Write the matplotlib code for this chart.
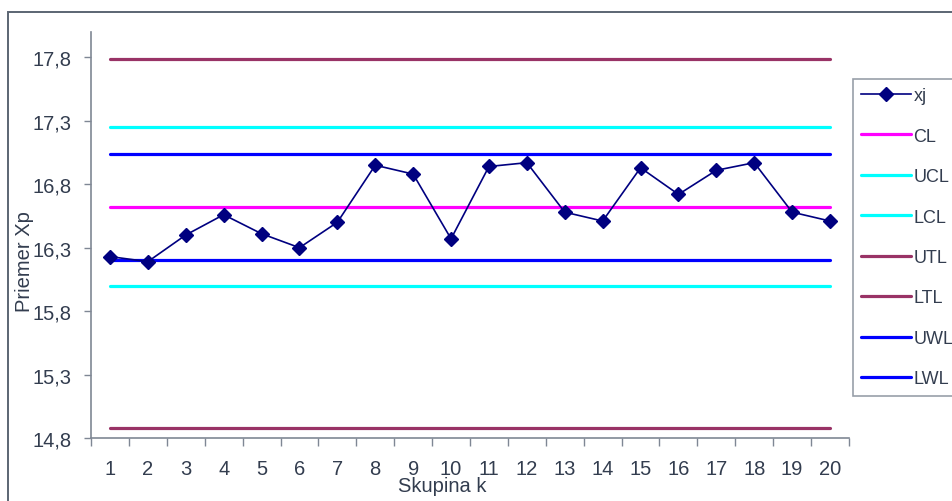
import matplotlib.pyplot as plt
from matplotlib.patches import Rectangle
from matplotlib.ticker import FixedLocator, FuncFormatter

plt.rcParams['font.family'] = ['Liberation Sans', 'DejaVu Sans']

# group numbers and group means
groups = list(range(1, 21))
xj = [16.23, 16.19, 16.40, 16.56, 16.41, 16.30, 16.50, 16.95, 16.88, 16.37,
      16.94, 16.97, 16.58, 16.51, 16.93, 16.72, 16.91, 16.97, 16.58, 16.51]

# control, tolerance and warning limits
CL = 16.62
UCL, LCL = 17.25, 16.00
UTL, LTL = 17.79, 14.88
UWL, LWL = 17.04, 16.20

y_ticks = [14.8, 15.3, 15.8, 16.3, 16.8, 17.3, 17.8]

text_col = '#333d4f'
axis_col = '#7f8794'

fig = plt.figure(figsize=(9.52, 5.02), dpi=100)
W, H = 952, 502

# chart area border
fig.patches.append(Rectangle((8 / W, -0.1), 1.2, 1 - 13 / H + 0.1,
                             transform=fig.transFigure, fill=False,
                             edgecolor='#5b6573', linewidth=1.4))

ax = fig.add_axes([91 / W, 1 - 439 / H, (849 - 91) / W, (439 - 33) / H])

ax.plot(groups, xj, color='#000080', lw=1.2, marker='D', markersize=7,
        label='xj', zorder=5)
lines = [(CL, '#ff00ff', 'CL'), (UCL, '#00ffff', 'UCL'), (LCL, '#00ffff', 'LCL'),
         (UTL, '#993366', 'UTL'), (LTL, '#993366', 'LTL'),
         (UWL, '#0000ff', 'UWL'), (LWL, '#0000ff', 'LWL')]
for val, col, name in lines:
    ax.plot([groups[0], groups[-1]], [val, val], color=col, lw=2.3,
            solid_capstyle='round', label=name)

ax.set_xlim(0.5, 20.5)
ax.set_ylim(14.8, 18.0)
ax.set_yticks(y_ticks)
ax.yaxis.set_major_formatter(FuncFormatter(lambda v, p: f'{v:.1f}'.replace('.', ',')))
ax.set_xticks(groups)
ax.xaxis.set_minor_locator(FixedLocator([g - 0.5 for g in groups] + [20.5]))
ax.tick_params(axis='x', which='major', length=0, pad=15, labelsize=14.5, labelcolor=text_col)
ax.tick_params(axis='x', which='minor', length=6, color=axis_col, width=1)
ax.tick_params(axis='y', length=5, color=axis_col, width=1, pad=9,
               labelsize=14.5, labelcolor=text_col)

for s in ['top', 'right']:
    ax.spines[s].set_visible(False)
for s in ['left', 'bottom']:
    ax.spines[s].set_color(axis_col)
    ax.spines[s].set_linewidth(1.2)

fig.text(25 / W, 1 - 262 / H, 'Priemer Xp', rotation=90, ha='center', va='center',
         fontsize=14.5, color=text_col)
fig.text(442 / W, 1 - 487 / H, 'Skupina k', ha='center', va='center',
         fontsize=14.5, color=text_col)

leg = fig.legend(loc='upper left', bbox_to_anchor=(853 / W, 1 - 80 / H),
                 frameon=True, fancybox=False, borderaxespad=0, borderpad=0.45,
                 handlelength=2.75, handletextpad=0.15, labelspacing=1.3,
                 fontsize=13, labelcolor=text_col)
leg.get_frame().set_edgecolor(axis_col)
leg.get_frame().set_linewidth(1.2)

fig.savefig('out.png', dpi=100)
